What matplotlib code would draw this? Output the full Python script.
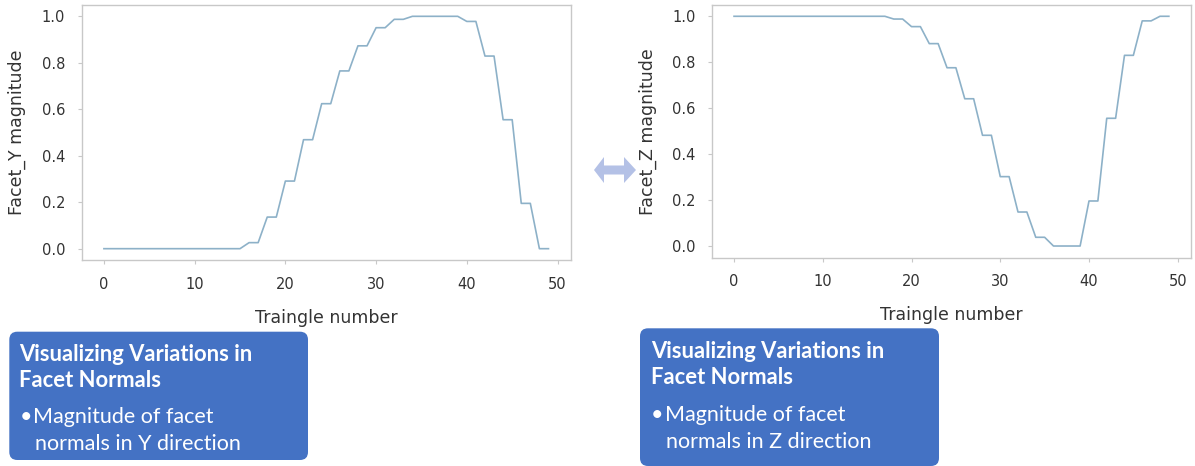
import numpy as np
import matplotlib
matplotlib.use('Agg')
import matplotlib.pyplot as plt
from matplotlib.patches import FancyBboxPatch, Polygon

# 三角形编号与法向量分量
tri_num = np.arange(50)
facet_y = [0.0, 0.0, 0.0, 0.0, 0.0, 0.0, 0.0, 0.0, 0.0, 0.0,
           0.0, 0.0, 0.0, 0.0, 0.0, 0.0, 0.026, 0.026, 0.136, 0.136,
           0.291, 0.291, 0.469, 0.469, 0.624, 0.624, 0.765, 0.765, 0.873, 0.873,
           0.951, 0.951, 0.987, 0.987, 1.0, 1.0, 1.0, 1.0, 1.0, 1.0,
           0.978, 0.978, 0.829, 0.829, 0.555, 0.555, 0.195, 0.195, 0.0, 0.0]
facet_z = [1.0, 1.0, 1.0, 1.0, 1.0, 1.0, 1.0, 1.0, 1.0, 1.0,
           1.0, 1.0, 1.0, 1.0, 1.0, 1.0, 1.0, 1.0, 0.988, 0.988,
           0.955, 0.955, 0.881, 0.881, 0.776, 0.776, 0.641, 0.641, 0.482, 0.482,
           0.302, 0.302, 0.148, 0.148, 0.038, 0.038, 0.0, 0.0, 0.0, 0.0,
           0.196, 0.196, 0.556, 0.556, 0.830, 0.830, 0.980, 0.980, 1.0, 1.0]

x_label = 'Traingle number'
y_labels = ['Facet_Y magnitude', 'Facet_Z magnitude']
box_title = ['Visualizing Variations in', 'Facet Normals']
box_body = [['Magnitude of facet', 'normals in Y direction'],
            ['Magnitude of facet', 'normals in Z direction']]

W, H = 1195, 466
fig = plt.figure(figsize=(W / 100, H / 100), dpi=100)

# 背景层，用像素坐标画文本框和箭头
bg = fig.add_axes([0, 0, 1, 1])
bg.set_xlim(0, W)
bg.set_ylim(H, 0)
bg.axis('off')

line_color = '#8DB1C8'
spine_color = '#C8C8C8'
text_color = '#333333'

axes_pos = [[81.7, 4.7, 570.7, 260.3], [712.3, 4.8, 1190.6, 257.5]]
series = [facet_y, facet_z]

for i in range(2):
    x0, y0, x1, y1 = axes_pos[i]
    ax = fig.add_axes([x0 / W, 1 - y1 / H, (x1 - x0) / W, (y1 - y0) / H])
    ax.plot(tri_num, series[i], color=line_color, linewidth=1.2)
    ax.set_xticks([0, 10, 20, 30, 40, 50])
    ax.set_yticks([0.0, 0.2, 0.4, 0.6, 0.8, 1.0])
    ax.set_xlim(-2.45, 51.45)
    ax.set_ylim(-0.05, 1.05)
    for s in ax.spines.values():
        s.set_color(spine_color)
        s.set_linewidth(1.0)
    ax.tick_params(colors=spine_color, labelcolor=text_color, labelsize=10.5,
                   length=3, width=0.8, pad=9)
    ax.set_xlabel(x_label, fontsize=12.5, color=text_color, labelpad=12)
    ax.set_ylabel(y_labels[i], fontsize=12.5, color=text_color, labelpad=11)

# 蓝色文本框
boxes = [[9.3, 331.7, 308, 460], [640, 328.3, 939, 466]]
text_x = [19.3, 650.7]
baselines = [[360.7, 386.7, 423, 450], [358.3, 384, 420.7, 448.3]]
for i in range(2):
    bx0, by0, bx1, by1 = boxes[i]
    bg.add_patch(FancyBboxPatch((bx0 + 8, by0 + 8), bx1 - bx0 - 16, by1 - by0 - 16,
                                boxstyle='round,pad=8', facecolor='#4472C4',
                                edgecolor='none'))
    tx = text_x[i]
    bl = baselines[i]
    bg.text(tx, bl[0], box_title[0], color='white', fontsize=15.8, fontweight='bold',
            family='Lato', va='baseline')
    bg.text(tx, bl[1], box_title[1], color='white', fontsize=15.8, fontweight='bold',
            family='Lato', va='baseline')
    bg.text(tx + 0.5, bl[2], '\u2022', color='white', fontsize=15.5,
            family='Lato', va='baseline')
    bg.text(tx + 14, bl[2], box_body[i][0], color='white', fontsize=15.5,
            family='Lato', va='baseline')
    bg.text(tx + 15.5, bl[3], box_body[i][1], color='white', fontsize=15.5,
            family='Lato', va='baseline')

# 中间的双向箭头
arrow = Polygon([(594, 170), (604, 157), (604, 165.5), (624, 165.5), (624, 157),
                 (636, 170), (624, 183), (624, 174.5), (604, 174.5), (604, 183)],
                closed=True, facecolor='#B4C1E6', edgecolor='none')
bg.add_patch(arrow)

fig.savefig('out.png', dpi=100)
